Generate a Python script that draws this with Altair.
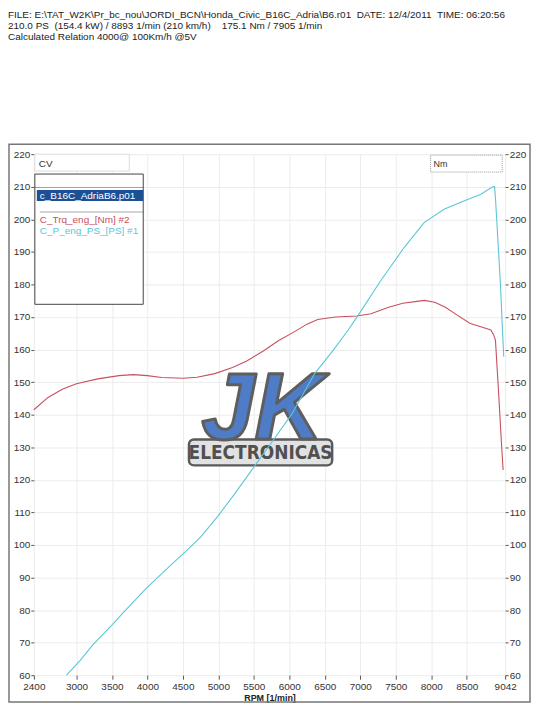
import altair as alt
import pandas as pd

# ---------------- data ----------------
torque_rpm = [2400, 2600, 2800, 3000, 3300, 3600, 3800, 4000, 4200, 4500, 4700, 4950,
              5200, 5400, 5650, 5850, 6050, 6250, 6400, 6650, 6950, 7150, 7400, 7600,
              7800, 7905, 8050, 8200, 8350, 8550, 8700, 8840, 8880, 8905, 8950, 8985, 9013]
torque_nm = [141.5, 145.3, 147.8, 149.5, 151.0, 152.0, 152.3, 152.0, 151.4, 151.2, 151.5, 152.6,
             154.5, 156.5, 159.8, 162.8, 165.2, 167.8, 169.2, 170.0, 170.3, 171.0, 173.0, 174.2,
             174.8, 175.1, 174.5, 173.0, 170.8, 168.0, 167.0, 166.0, 164.5, 162.9, 146.7, 133.0, 123.0]

power_rpm = [2860, 3050, 3230, 3510, 3650, 3980, 4300, 4540, 4750, 5000, 5240, 5520,
             5800, 6030, 6360, 6620, 6830, 6970, 7290, 7620, 7900, 8180, 8460, 8700,
             8860, 8893, 8905, 8975, 9000, 9022]
power_ps = [60.0, 64.5, 69.3, 75.6, 79.0, 86.6, 93.2, 98.0, 102.4, 109.0, 116.0, 124.5,
            133.0, 140.0, 152.7, 159.8, 166.0, 170.5, 181.2, 191.4, 199.0, 203.1, 205.6, 207.7,
            209.9, 210.0, 206.7, 180.2, 168.0, 157.8]

x_ticks = [2400, 3000, 3500, 4000, 4500, 5000, 5500, 6000, 6500, 7000, 7500, 8000, 8500, 9042]
y_ticks = list(range(60, 221, 10))

NB = "\u00a0"
header_lines = [
    "FILE: E:\\TAT_W2K\\Pr_bc_nou\\JORDI_BCN\\Honda_Civic_B16C_Adria\\B6.r01" + NB * 2
    + "DATE: 12/4/2011" + NB * 2 + "TIME: 06:20:56",
    "210.0 PS" + NB * 2 + "(154.4 kW) / 8893 1/min (210 km/h)" + NB * 4 + "175.1 Nm / 7905 1/min",
    "Calculated Relation 4000@ 100Km/h @5V",
]
left_unit = "CV"
right_unit = "Nm"
file_item = "c_B16C_AdriaB6.p01"
series_names = ["C_Trq_eng_[Nm] #2", "C_P_eng_PS_[PS] #1"]
logo_big = "JK"
logo_small = "ELECTRONICAS"

FONT = "Liberation Sans"
RED = "#c8505f"
CYAN = "#5cc6d6"

tq = pd.DataFrame({"rpm": torque_rpm, "val": torque_nm})
pw = pd.DataFrame({"rpm": power_rpm, "val": power_ps})

x_scale = alt.Scale(domain=[2400, 9042], nice=False, zero=False)
y_scale = alt.Scale(domain=[60, 220], nice=False, zero=False)

x_axis = alt.Axis(values=x_ticks, title="RPM  [1/min]", domain=False, grid=True,
                  gridColor="#ececec", tickSize=4, tickColor="#555", labelPadding=2,
                  labelFont=FONT, labelFontSize=10, labelColor="#333", labelFlush=False,
                  labelOverlap=False, titleFont=FONT, titleFontSize=9, titleFontWeight="bold",
                  titleColor="#222", titlePadding=2, format="d")

left_axis = alt.Axis(orient="left", values=y_ticks, title=None, domain=False, grid=True,
                     gridColor="#ececec", tickSize=3, tickColor="#555", labelPadding=1,
                     labelFont=FONT, labelFontSize=10, labelColor="#333", labelFlush=False)
right_axis = alt.Axis(orient="right", values=y_ticks, title=None, domain=False, grid=False,
                      tickSize=3, tickColor="#555", labelPadding=1,
                      labelFont=FONT, labelFontSize=10, labelColor="#333", labelFlush=False)


def one(text):
    return pd.DataFrame({"t": [text]})


def txt(text, x, y, size=10, color="#222", **kw):
    return alt.Chart(one(text)).mark_text(
        align=kw.pop("align", "left"), baseline=kw.pop("baseline", "middle"),
        font=kw.pop("font", FONT), fontSize=size, color=color, **kw
    ).encode(text="t:N", x=alt.value(x), y=alt.value(y))


def box(x, x2, y, y2, **kw):
    return alt.Chart(one("")).mark_rect(**kw).encode(
        x=alt.value(x), x2=alt.value(x2), y=alt.value(y), y2=alt.value(y2))


# outer frame
frame = box(-25, 499, -10, 551, fill="white", fillOpacity=0, stroke="#777", strokeWidth=1.5)

# logo
logo_layers = [
    box(156, 300, 287, 313, fill="#e2e2e2", stroke="#5a5a5a", strokeWidth=2.5, cornerRadius=5),
    txt(logo_small, 228, 301, size=19, color="#505050", align="center",
        font="Liberation Sans Narrow, DejaVu Sans Condensed, Liberation Sans", fontWeight="bold"),
    txt(logo_big, 230, 286, size=96, color="#4f7cc6", align="center", baseline="alphabetic",
        fontWeight="bold", fontStyle="italic", stroke="#5e5e5e", strokeWidth=3, strokeJoin="round"),
]

torque_line = alt.Chart(tq).mark_line(color=RED, strokeWidth=1.1).encode(
    x=alt.X("rpm:Q", scale=x_scale, axis=x_axis),
    y=alt.Y("val:Q", scale=y_scale, axis=left_axis),
)
power_line = alt.Chart(pw).mark_line(color=CYAN, strokeWidth=1.1).encode(
    x=alt.X("rpm:Q", scale=x_scale, axis=x_axis),
    y=alt.Y("val:Q", scale=y_scale, axis=right_axis),
)

# legend / unit boxes
legend_layers = [
    box(1, 96, 0, 17, fill="white", stroke="#dddddd", strokeWidth=1),
    txt(left_unit, 5, 10, size=10, color="#333"),
    box(1, 110, 20, 151, fill="white", stroke="#444", strokeWidth=1),
    box(1, 110, 33, 33.5, fill="#444"),
    box(3, 110, 36, 47, fill="#1d4f95"),
    txt(file_item, 6, 42, size=10, color="white"),
    box(6, 110, 58, 58.5, fill="#555"),
    txt(series_names[0], 6, 66, size=10, color=RED),
    txt(series_names[1], 6, 77, size=10, color=CYAN),
    box(399, 471, 1, 18, fill="white", stroke="#999", strokeWidth=1, strokeDash=[1, 1]),
    txt(right_unit, 402, 10, size=9, color="#333"),
]

header_layers = [
    txt(header_lines[0], -26, -140, size=10, color="#222"),
    txt(header_lines[1], -26, -129, size=10, color="#222"),
    txt(header_lines[2], -26, -118, size=10, color="#222"),
]

chart = alt.layer(
    frame, *logo_layers, torque_line, power_line, *legend_layers, *header_layers
).resolve_scale(y="independent").properties(
    width=474, height=524,
    autosize=alt.AutoSizeParams(type="none"),
    padding={"left": 26, "top": 145, "right": 28, "bottom": 29},
    background="white",
).configure_view(stroke=None)

chart.save("out.html", embed_options={"renderer": "svg", "actions": False})
